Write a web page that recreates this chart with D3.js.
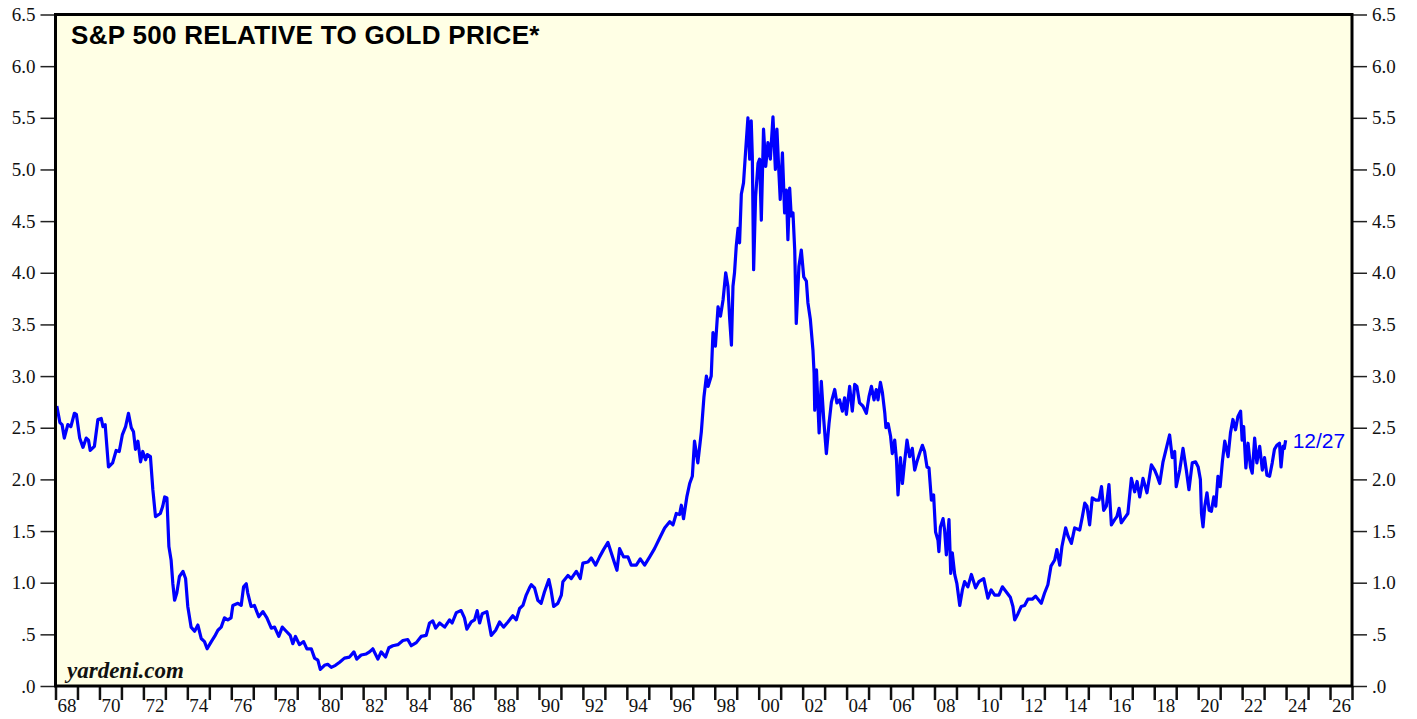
<!DOCTYPE html>
<html>
<head>
<meta charset="utf-8">
<script src="https://cdn.jsdelivr.net/npm/d3@7"></script>
<style>
  body { margin: 0; background: #fff; }
  .tick text { font-family: "Liberation Serif", "Times New Roman", serif; fill: #111; }
</style>
</head>
<body>
<div id="chart"></div>
<script>
// S&P 500 relative to gold price, weekly-ish readings
var dates = [
  1968.06,1968.2,1968.3,1968.4,1968.56,1968.7,1968.86,1968.95,1969.1,1969.25,1969.4,1969.5,1969.58,1969.77,1969.93,
  1970.08,1970.16,1970.26,1970.41,1970.6,1970.76,1970.9,1971.04,1971.19,1971.32,1971.45,1971.55,1971.64,1971.75,1971.87,1971.97,
  1972.1,1972.18,1972.32,1972.43,1972.55,1972.77,1972.88,1972.97,1973.07,1973.16,1973.26,1973.34,1973.42,1973.52,1973.64,1973.8,1973.92,
  1974.02,1974.17,1974.33,1974.48,1974.63,1974.78,1974.9,1975.09,1975.24,1975.39,1975.54,1975.69,1975.84,1975.99,
  1976.07,1976.3,1976.45,1976.56,1976.68,1976.75,1976.9,1977.05,1977.25,1977.44,1977.62,1977.82,1977.97,
  1978.16,1978.32,1978.5,1978.68,1978.8,1978.92,1979.1,1979.29,1979.44,1979.64,1979.79,1979.94,
  1980.05,1980.24,1980.39,1980.55,1980.74,1980.93,1981.15,1981.38,1981.58,1981.71,1981.91,
  1982.14,1982.29,1982.44,1982.67,1982.82,1983.02,1983.17,1983.35,1983.58,1983.81,
  1984.03,1984.19,1984.42,1984.64,1984.87,1985.02,1985.17,1985.3,1985.48,1985.71,1985.93,
  1986.05,1986.24,1986.46,1986.61,1986.72,1986.92,1987.07,1987.19,1987.3,1987.42,1987.63,1987.83,
  1988.03,1988.21,1988.39,1988.59,1988.81,1988.97,1989.12,1989.27,1989.42,1989.57,1989.65,1989.8,1989.95,
  1990.1,1990.25,1990.45,1990.55,1990.67,1990.86,1991.02,1991.09,1991.32,1991.47,1991.7,1991.88,
  1992.0,1992.23,1992.38,1992.58,1992.76,1992.94,1993.14,1993.29,1993.44,1993.55,1993.67,1993.85,
  1994.05,1994.2,1994.43,1994.61,1994.81,1995.04,1995.26,1995.49,1995.72,1995.95,
  1996.1,1996.25,1996.4,1996.48,1996.58,1996.73,1996.86,1996.98,1997.08,1997.23,1997.39,1997.51,1997.62,1997.7,1997.84,1997.92,
  1998.03,1998.15,1998.26,1998.38,1998.5,1998.6,1998.68,1998.76,1998.83,1998.9,1998.98,
  1999.06,1999.13,1999.21,1999.31,1999.4,1999.51,1999.59,1999.66,1999.71,1999.77,1999.86,1999.97,
  2000.04,2000.12,2000.22,2000.32,2000.42,2000.53,2000.65,2000.76,2000.83,2000.92,2000.98,
  2001.08,2001.18,2001.26,2001.33,2001.41,2001.48,2001.56,2001.64,2001.71,2001.83,2001.94,
  2002.05,2002.17,2002.24,2002.35,2002.47,2002.52,2002.55,2002.63,2002.75,2002.85,2002.96,
  2003.08,2003.2,2003.31,2003.46,2003.56,2003.68,2003.81,2003.91,2003.99,
  2004.14,2004.26,2004.37,2004.47,2004.59,2004.74,2004.9,2005.02,2005.13,2005.25,2005.35,2005.43,2005.54,2005.63,2005.74,2005.79,2005.89,
  2006.0,2006.08,2006.19,2006.27,2006.34,2006.45,2006.54,2006.64,2006.75,2006.87,2006.99,
  2007.1,2007.2,2007.32,2007.45,2007.55,2007.66,2007.75,2007.86,2007.96,
  2008.05,2008.16,2008.2,2008.27,2008.39,2008.46,2008.54,2008.66,2008.74,2008.81,2008.92,
  2009.02,2009.15,2009.27,2009.37,2009.52,2009.68,2009.87,2010.02,2010.24,2010.43,2010.58,2010.74,2010.93,
  2011.09,2011.27,2011.45,2011.57,2011.65,2011.8,2011.95,2012.1,2012.25,2012.45,2012.6,2012.86,
  2013.01,2013.16,2013.3,2013.47,2013.57,2013.7,2013.8,2013.97,2014.08,2014.23,2014.38,2014.61,2014.73,2014.84,2014.94,
  2015.06,2015.18,2015.34,2015.49,2015.6,2015.7,2015.82,2015.94,2016.05,2016.2,2016.3,2016.4,2016.5,2016.7,2016.8,2016.96,
  2017.11,2017.22,2017.34,2017.49,2017.67,2017.87,2018.02,2018.12,2018.25,2018.4,2018.55,2018.7,2018.82,2018.93,
  2019.0,2019.16,2019.31,2019.46,2019.58,2019.73,2019.88,2020.0,2020.1,2020.15,2020.22,2020.3,2020.4,2020.5,2020.6,2020.71,2020.8,2020.9,
  2021.0,2021.1,2021.21,2021.36,2021.47,2021.58,2021.7,2021.81,2021.93,2022.0,2022.07,2022.17,2022.27,2022.38,2022.46,2022.57,2022.67,2022.8,2022.92,
  2023.02,2023.13,2023.25,2023.37,2023.47,2023.58,2023.7,2023.77,2023.86,2023.92,2023.98
];
var ratio = [
  2.71,2.55,2.53,2.40,2.53,2.51,2.64,2.63,2.40,2.31,2.40,2.38,2.28,2.32,2.58,
  2.59,2.51,2.53,2.12,2.16,2.28,2.27,2.43,2.51,2.64,2.50,2.46,2.29,2.37,2.17,2.27,
  2.19,2.24,2.22,1.90,1.64,1.67,1.74,1.83,1.82,1.35,1.22,0.99,0.83,0.90,1.06,1.11,1.04,
  0.77,0.57,0.53,0.59,0.46,0.43,0.36,0.43,0.48,0.54,0.57,0.66,0.64,0.66,
  0.78,0.80,0.78,0.96,0.99,0.90,0.77,0.78,0.67,0.72,0.66,0.56,0.57,
  0.48,0.57,0.53,0.49,0.41,0.48,0.40,0.43,0.36,0.36,0.27,0.25,
  0.16,0.20,0.21,0.18,0.20,0.23,0.27,0.28,0.33,0.26,0.30,
  0.31,0.33,0.36,0.26,0.33,0.28,0.37,0.39,0.40,0.44,
  0.45,0.39,0.42,0.48,0.49,0.61,0.63,0.56,0.61,0.57,0.64,
  0.61,0.71,0.73,0.66,0.55,0.62,0.64,0.73,0.61,0.70,0.72,0.49,
  0.54,0.62,0.57,0.62,0.68,0.64,0.75,0.78,0.88,0.95,0.98,0.95,0.83,
  0.80,0.91,1.03,0.93,0.77,0.80,0.88,1.01,1.07,1.04,1.11,1.04,
  1.19,1.20,1.24,1.17,1.25,1.32,1.39,1.29,1.19,1.12,1.33,1.25,
  1.25,1.17,1.17,1.23,1.17,1.25,1.33,1.43,1.53,1.59,
  1.56,1.67,1.66,1.75,1.62,1.83,1.96,2.03,2.37,2.16,2.46,2.80,3.00,2.90,3.00,3.42,
  3.29,3.67,3.58,3.74,4.00,3.87,3.55,3.30,3.87,4.00,4.26,
  4.43,4.29,4.76,4.87,5.16,5.50,5.10,5.47,5.13,4.03,4.74,5.06,
  5.10,4.51,5.39,5.03,5.26,5.10,5.51,5.00,5.39,4.97,4.71,
  5.16,4.58,4.80,4.32,4.82,4.55,4.58,4.22,3.51,4.06,4.22,
  3.96,3.92,3.71,3.55,3.25,3.03,2.67,3.06,2.45,2.95,2.58,
  2.25,2.54,2.75,2.87,2.74,2.77,2.66,2.79,2.63,
  2.90,2.66,2.92,2.90,2.74,2.71,2.64,2.80,2.90,2.77,2.87,2.77,2.94,2.84,2.64,2.50,2.54,
  2.42,2.25,2.38,2.19,1.85,2.21,1.96,2.17,2.38,2.22,2.30,
  2.09,2.17,2.25,2.33,2.27,2.12,2.11,1.80,1.85,
  1.49,1.41,1.30,1.54,1.62,1.51,1.27,1.61,1.09,1.29,1.08,
  0.99,0.78,0.93,1.01,0.96,1.08,0.95,1.01,1.04,0.85,0.93,0.88,0.88,
  0.96,0.91,0.86,0.77,0.64,0.70,0.77,0.78,0.84,0.84,0.87,0.80,
  0.90,0.98,1.16,1.22,1.32,1.17,1.35,1.53,1.45,1.38,1.53,1.51,1.64,1.77,1.74,
  1.56,1.82,1.80,1.80,1.93,1.70,1.74,1.95,1.56,1.61,1.64,1.72,1.58,1.64,1.67,2.01,
  1.88,1.98,1.83,2.01,1.87,2.14,2.09,2.04,1.96,2.17,2.30,2.43,2.21,2.27,
  1.93,2.09,2.30,2.09,1.90,2.16,2.17,2.12,2.00,1.67,1.54,1.74,1.87,1.70,1.69,1.83,1.74,2.03,
  1.93,2.17,2.37,2.22,2.45,2.58,2.48,2.61,2.66,2.38,2.51,2.11,2.35,2.12,2.06,2.40,2.16,2.32,2.09,
  2.21,2.04,2.03,2.16,2.29,2.33,2.35,2.12,2.32,2.30,2.38
];

var yTicks = [0, 0.5, 1, 1.5, 2, 2.5, 3, 3.5, 4, 4.5, 5, 5.5, 6, 6.5];
var yTickLabels = [".0", ".5", "1.0", "1.5", "2.0", "2.5", "3.0", "3.5", "4.0", "4.5", "5.0", "5.5", "6.0", "6.5"];
var xLabelYears = [1968,1970,1972,1974,1976,1978,1980,1982,1984,1986,1988,1990,1992,1994,1996,1998,2000,2002,2004,2006,2008,2010,2012,2014,2016,2018,2020,2022,2024,2026];
var xLabels = ["68","70","72","74","76","78","80","82","84","86","88","90","92","94","96","98","00","02","04","06","08","10","12","14","16","18","20","22","24","26"];
var title = "S&P 500 RELATIVE TO GOLD PRICE*";
var lastLabel = "12/27";

var width = 1417, height = 719;
var plotLeft = 55.5, plotRight = 1352, plotTop = 14.5, plotBottom = 686;

var svg = d3.select("#chart").append("svg")
    .attr("width", width)
    .attr("height", height);

var x = d3.scaleLinear().domain([1968, 2027]).range([plotLeft, plotRight]);
var y = d3.scaleLinear().domain([0, 6.5]).range([plotBottom, plotTop]);

// plot background
svg.append("rect")
    .attr("x", plotLeft).attr("y", plotTop)
    .attr("width", plotRight - plotLeft).attr("height", plotBottom - plotTop)
    .attr("fill", "#ffffe5");

// left axis
var yFmt = function(d) { return yTickLabels[yTicks.indexOf(d)]; };
var gl = svg.append("g")
    .attr("transform", "translate(" + plotLeft + ",0)")
    .call(d3.axisLeft(y).tickValues(yTicks).tickFormat(yFmt).tickSize(15).tickPadding(5));
gl.select(".domain").remove();

// right axis
var gr = svg.append("g")
    .attr("transform", "translate(" + plotRight + ",0)")
    .call(d3.axisRight(y).tickValues(yTicks).tickFormat(yFmt).tickSize(15).tickPadding(5));
gr.select(".domain").remove();

[gl, gr].forEach(function(g) {
  g.selectAll(".tick line").attr("stroke", "#222").attr("stroke-width", 1.5);
  g.selectAll(".tick text").style("font-size", "19px");
});

// year ticks along the bottom
var years = d3.range(1968, 2028);
var gx = svg.append("g")
    .attr("transform", "translate(0," + plotBottom + ")")
    .call(d3.axisBottom(x).tickValues(years).tickFormat("").tickSize(14));
gx.select(".domain").remove();
gx.selectAll(".tick line").attr("stroke", "#111").attr("stroke-width", 2.5);

// even-year labels centred in their year
var gxl = svg.append("g")
    .attr("transform", "translate(0," + plotBottom + ")")
    .call(d3.axisBottom(x)
      .tickValues(xLabelYears.map(function(d) { return d + 0.5; }))
      .tickFormat(function(d, i) { return xLabels[i]; })
      .tickSize(0).tickPadding(13));
gxl.select(".domain").remove();
gxl.selectAll(".tick text").style("font-size", "19px");

// the series
var pts = dates.map(function(d, i) { return [d, ratio[i]]; });
var line = d3.line()
    .x(function(d) { return x(d[0]); })
    .y(function(d) { return y(d[1]); });

svg.append("path")
    .datum(pts)
    .attr("fill", "none")
    .attr("stroke", "#0000ff")
    .attr("stroke-width", 3.2)
    .attr("stroke-linejoin", "round")
    .attr("d", line);

// frame
svg.append("rect")
    .attr("x", plotLeft).attr("y", plotTop)
    .attr("width", plotRight - plotLeft).attr("height", plotBottom - plotTop)
    .attr("fill", "none")
    .attr("stroke", "#000")
    .attr("stroke-width", 3);

// texts
svg.append("text")
    .attr("x", 71).attr("y", 44)
    .style("font-family", "'Liberation Sans', Arial, sans-serif")
    .style("font-weight", "bold")
    .style("font-size", "26px")
    .style("letter-spacing", "0.3px")
    .attr("fill", "#000")
    .text(title);

svg.append("text")
    .attr("x", 67).attr("y", 678)
    .style("font-family", "'Liberation Serif', 'Times New Roman', serif")
    .style("font-weight", "bold")
    .style("font-style", "italic")
    .style("font-size", "23px")
    .attr("fill", "#111")
    .text("yardeni.com");

var last = pts[pts.length - 1];
svg.append("text")
    .attr("x", x(last[0]) + 7).attr("y", y(last[1]) + 8)
    .style("font-family", "'Liberation Sans', Arial, sans-serif")
    .style("font-size", "21px")
    .attr("fill", "#0000ff")
    .text(lastLabel);
</script>
</body>
</html>
